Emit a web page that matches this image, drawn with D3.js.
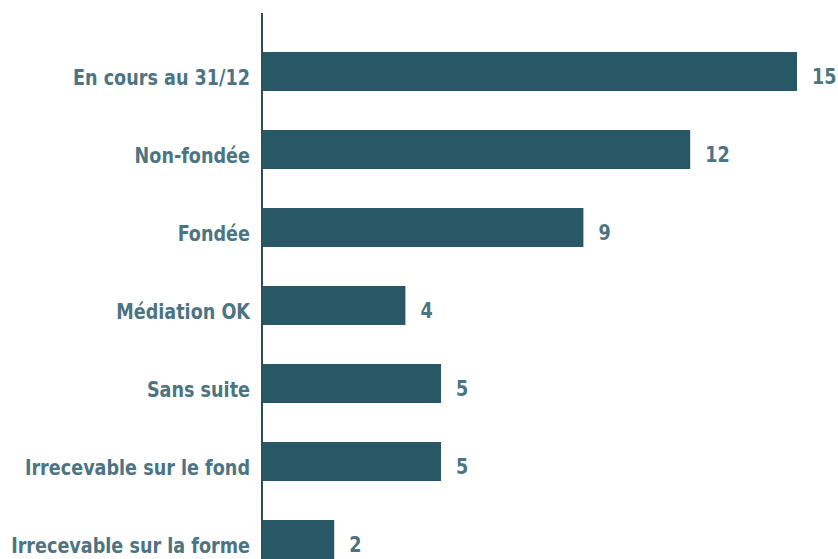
<!DOCTYPE html>
<html>
<head>
<meta charset="utf-8">
<script src="https://cdn.jsdelivr.net/npm/d3@7"></script>
<style>
  html, body { margin: 0; padding: 0; background: #ffffff; }
  svg { display: block; }
  .lbl { font-family: "DejaVu Sans Condensed", "DejaVu Sans", sans-serif; font-weight: 700; }
</style>
</head>
<body>
<svg id="chart" width="838" height="559"></svg>
<script>
// Dossiers par issue
const categories = [
  "En cours au 31/12",
  "Non-fondée",
  "Fondée",
  "Médiation OK",
  "Sans suite",
  "Irrecevable sur le fond",
  "Irrecevable sur la forme"
];
const values = [15, 12, 9, 4, 5, 5, 2];

const W = 838, H = 559;
const barColor = "#285866";
const textColor = "#4d7482";
const axisColor = "#2e4e58";
const fontSize = 22;
const squeeze = 0.89; // narrow the bold face horizontally

const svg = d3.select("#chart");

const x = d3.scaleLinear().domain([0, 15]).range([263, 797]);
const y = d3.scaleBand()
  .domain(categories)
  .range([13, 598])
  .paddingInner(0.5)
  .paddingOuter(0.5);

// Bars
svg.append("g")
  .selectAll("rect")
  .data(values)
  .join("rect")
  .attr("x", x(0))
  .attr("y", (d, i) => y(categories[i]))
  .attr("width", d => x(d) - x(0))
  .attr("height", y.bandwidth())
  .attr("fill", barColor);

// Category axis line
const axis = svg.append("g")
  .attr("transform", `translate(${x(0) - 1},0)`)
  .call(d3.axisLeft(y).tickSize(0).tickFormat(""));
axis.select(".domain")
  .attr("stroke", axisColor)
  .attr("stroke-width", 2)
  .attr("d", `M0,13V${H}`);

// Category labels
svg.append("g")
  .selectAll("text")
  .data(categories)
  .join("text")
  .attr("class", "lbl")
  .attr("text-anchor", "end")
  .attr("transform", d => `translate(${x(0) - 13},${y(d) + 33}) scale(${squeeze},1)`)
  .attr("fill", textColor)
  .attr("font-size", fontSize)
  .text(d => d);

// Value labels
svg.append("g")
  .selectAll("text")
  .data(values)
  .join("text")
  .attr("class", "lbl")
  .attr("transform", (d, i) => `translate(${x(d) + 15},${y(categories[i]) + 32}) scale(${squeeze},1)`)
  .attr("fill", textColor)
  .attr("font-size", fontSize)
  .text(d => d);
</script>
</body>
</html>
